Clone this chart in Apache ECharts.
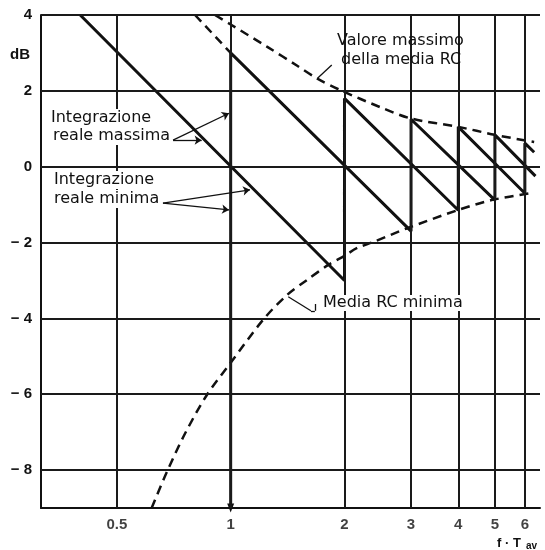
<!DOCTYPE html>
<html>
<head>
<meta charset="utf-8">
<script src="https://cdn.jsdelivr.net/npm/echarts@6/dist/echarts.min.js"></script>
<style>
html,body{margin:0;padding:0;background:#fff;}
#chart{width:545px;height:550px;}
</style>
</head>
<body>
<div id="chart"></div>
<script>
// ---- data ----
const xTicks = [0.5, 1, 2, 3, 4, 5, 6];
const xTickLabels = ['0.5', '1', '2', '3', '4', '5', '6'];
const yTicks = [-8, -6, -4, -2, 0, 2, 4];
const yTickLabels = ['− 8', '− 6', '− 4', '− 2', '0', '2', '4'];

// "Integrazione reale" sawtooth, two interleaved polylines
const realA = [[0.40, 4], [2, -3.0], [2, 1.8], [4, -1.15], [4, 1.05], [6, -0.7], [6, 0.62], [6.35, 0.38]];
const realB = [[1, -9], [1, 3.0], [3, -1.7], [3, 1.25], [5, -0.88], [5, 0.84], [6.4, -0.25]];
// dashed extension of the segment starting at f·Tav = 1
const realExt = [[0.805, 4], [1, 3.0]];
// "Valore massimo della media RC"
const rcMax = [[0.909, 4], [1, 3.75], [1.25, 3.16], [1.5, 2.66], [1.69, 2.33], [1.95, 2.02], [2.5, 1.56], [3, 1.27], [4, 1.05], [5, 0.84], [6.35, 0.65]];
// "Media RC minima"
const rcMin = [[0.618, -9], [0.678, -8.05], [0.758, -7.03], [0.865, -6.02], [1, -5.17], [1.22, -4.03], [1.407, -3.39], [1.59, -2.99], [1.813, -2.59], [2, -2.35], [2.155, -2.15], [2.39, -1.98], [2.92, -1.63], [4, -1.14], [4.9, -0.88], [6.3, -0.69]];

const INK = '#111';
const FONT = '"DejaVu Sans", sans-serif';

const chart = echarts.init(document.getElementById('chart'), null, {renderer: 'canvas'});

const option = {
  animation: false,
  backgroundColor: '#fff',
  grid: {left: 41, top: 15, right: 5, bottom: 42, containLabel: false},
  xAxis: {
    type: 'log', logBase: 10, min: 0.315, max: 6.58,
    axisLine: {show: true, onZero: false, lineStyle: {color: INK, width: 2}},
    axisTick: {show: false}, axisLabel: {show: false}, splitLine: {show: false}
  },
  yAxis: {
    type: 'value', min: -9, max: 4, interval: 1,
    axisLine: {show: true, onZero: false, lineStyle: {color: INK, width: 2}},
    axisTick: {show: false}, splitLine: {show: false},
    axisLabel: {
      margin: 9, color: INK, fontFamily: '"Liberation Sans", Arial, sans-serif',
      fontWeight: 'bold', fontSize: 15,
      formatter: v => { const i = yTicks.indexOf(v); return i >= 0 ? yTickLabels[i] : ''; }
    }
  },
  series: [
    { // grid lines
      type: 'line', data: [], silent: true, z: 1,
      markLine: {
        silent: true, symbol: ['none', 'none'], animation: false,
        label: {show: false},
        lineStyle: {color: '#1a1a1a', width: 2, type: 'solid'},
        data: xTicks.map(v => ({xAxis: v})).concat(yTicks.map(v => ({yAxis: v})))
      }
    },
    { // x tick labels
      type: 'scatter', symbolSize: 0, silent: true, z: 5,
      data: xTicks.map((v, i) => ({value: [v, -9], label: {formatter: xTickLabels[i]}})),
      label: {show: true, position: 'bottom', distance: 9, color: INK,
        fontFamily: '"Liberation Sans", Arial, sans-serif', fontWeight: 'bold', fontSize: 15}
    },
    {
      type: 'line', data: realA, symbol: 'none', z: 4,
      lineStyle: {color: INK, width: 3}
    },
    {
      type: 'line', symbol: 'none', z: 4,
      data: realB.map((p, i) => i === 0 ? {value: p, symbol: 'triangle', symbolRotate: 180, symbolSize: [7, 9], itemStyle: {color: INK}} : {value: p}),
      lineStyle: {color: INK, width: 3}
    },
    {
      type: 'line', data: realExt, symbol: 'none', z: 4,
      lineStyle: {color: INK, width: 2.5, type: [9, 6]}
    },
    {
      type: 'line', data: rcMax, symbol: 'none', smooth: 0.3, z: 4,
      lineStyle: {color: INK, width: 2.5, type: [9, 6]}
    },
    {
      type: 'line', data: rcMin, symbol: 'none', smooth: 0.3, z: 4,
      lineStyle: {color: INK, width: 2.5, type: [9, 6]}
    },
    { // annotation leaders
      type: 'line', data: [], silent: true, z: 6,
      markLine: {
        silent: true, animation: false, label: {show: false},
        symbol: ['none', 'arrow'], symbolSize: 7,
        lineStyle: {color: INK, width: 1.3, type: 'solid'},
        data: [
          [{coord: [0.704, 0.70]}, {coord: [0.99, 1.41]}],
          [{coord: [0.704, 0.70]}, {coord: [0.838, 0.70]}],
          [{coord: [0.662, -0.96]}, {coord: [1.125, -0.61]}],
          [{coord: [0.662, -0.96]}, {coord: [0.99, -1.14]}],
          [{coord: [1.851, 2.68], symbol: 'none'}, {coord: [1.70, 2.34], symbol: 'none'}],
          [{coord: [1.42, -3.43], symbol: 'none'}, {coord: [1.63, -3.80], symbol: 'none'}],
          [{coord: [1.63, -3.80], symbol: 'none'}, {coord: [1.67, -3.80], symbol: 'none'}],
          [{coord: [1.67, -3.80], symbol: 'none'}, {coord: [1.67, -3.62], symbol: 'none'}]
        ]
      }
    }
  ],
  graphic: [
    {type: 'text', left: 10, top: 47, z: 10, style: {text: 'dB', font: 'bold 15px "Liberation Sans", Arial, sans-serif', fill: INK}},
    {type: 'text', left: 49, top: 109, z: 10, style: {text: 'Integrazione', font: '16px ' + FONT, fill: INK, backgroundColor: '#fff', padding: [1, 2]}},
    {type: 'text', left: 51, top: 127, z: 10, style: {text: 'reale massima', font: '16px ' + FONT, fill: INK, backgroundColor: '#fff', padding: [1, 2]}},
    {type: 'text', left: 52, top: 171, z: 10, style: {text: 'Integrazione', font: '16px ' + FONT, fill: INK, backgroundColor: '#fff', padding: [1, 2]}},
    {type: 'text', left: 52, top: 190, z: 10, style: {text: 'reale minima', font: '16px ' + FONT, fill: INK, backgroundColor: '#fff', padding: [1, 2]}},
    {type: 'text', left: 337, top: 33, z: 10, style: {text: 'Valore massimo', font: '16px ' + FONT, fill: INK}},
    {type: 'text', left: 341, top: 52, z: 10, style: {text: 'della media RC', font: '16px ' + FONT, fill: INK}},
    {type: 'text', left: 322, top: 295, z: 10, style: {text: 'Media RC minima', font: '16px ' + FONT, fill: INK, backgroundColor: '#fff', padding: [0, 1]}},
    {type: 'text', left: 497, top: 537, z: 10, style: {text: 'f · T', font: 'bold 13px "Liberation Sans", Arial, sans-serif', fill: INK}},
    {type: 'text', left: 526, top: 541, z: 10, style: {text: 'av', font: 'bold 10px "Liberation Sans", Arial, sans-serif', fill: INK}}
  ]
};
chart.setOption(option);
</script>
</body>
</html>
